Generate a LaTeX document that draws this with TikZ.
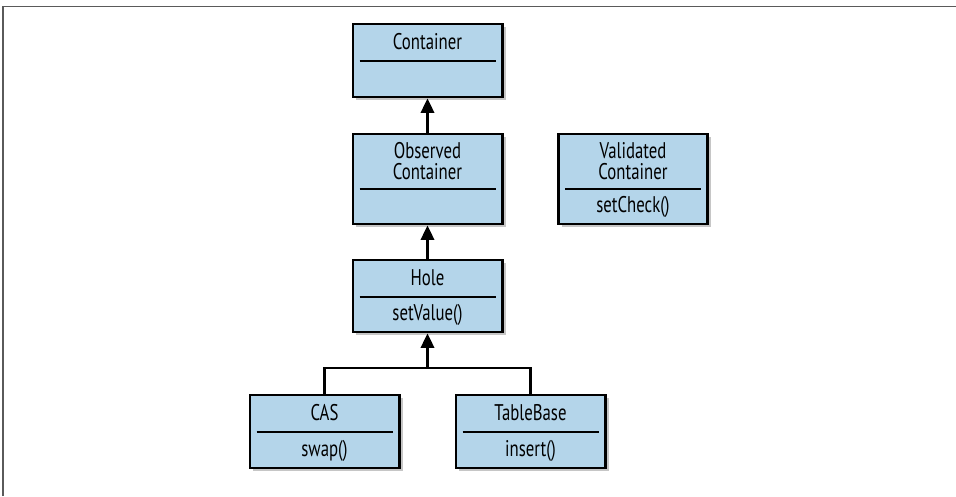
\documentclass[tikz,border=0pt]{standalone}
\usepackage{fontspec}
\setmainfont[FakeStretch=0.74]{PT Sans}
\usetikzlibrary{arrows.meta,shadows}
\definecolor{umlblue}{RGB}{180,213,234}
\definecolor{frame}{RGB}{90,90,90}
\tikzset{
  >={Triangle[length=11pt,width=10pt]},
  umlbox/.style={draw=black,fill=umlblue,line width=2pt,minimum width=112pt,
    drop shadow={shadow xshift=2.5pt,shadow yshift=-2.5pt,opacity=0.45}},
  member/.style={font=\fontsize{17}{16}\selectfont,align=center,inner sep=0pt},
  divider/.style={line width=1.8pt},
  inherit/.style={->,line width=2pt},
  link/.style={line width=2pt},
}

\begin{document}
\begin{tikzpicture}[x=0.75pt,y=0.75pt]
  \useasboundingbox (0,0) rectangle (956,496);
  % frame
  \draw[frame,line width=1.2pt] (3,0) -- (3,489.5) -- (956,489.5);
  % classes: name/x/top/divider/bottom/title/members (measured from the top)
  \foreach \n/\x/\t/\d/\b/\title/\meth in {
      Container/427.5/23/61/98/{Container}/{},
      Observed/427.5/133/189/225/{Observed\\Container}/{},
      Validated/633/133/189/225/{Validated\\Container}/{setCheck()},
      Hole/427.5/259/297/333/{Hole}/{setValue()},
      CAS/324.5/394/432/469/{CAS}/{swap()},
      TableBase/530.5/394/432/469/{TableBase}/{insert()}}{
    \pgfmathsetmacro{\h}{(\b-\t)*0.75-1.5}
    \node[umlbox,minimum height=\h pt] (\n) at (\x,{496-(\t+\b)/2}) {};
    \node[member] (\n-title) at (\x,{496-(\t+\d)/2}) {\title};
    \node[member] (\n-meth) at (\x,{496-(\d+\b)/2}) {\meth};
    \draw[divider] ({\x-68},{496-\d}) -- ({\x+68},{496-\d});
  }
  % inheritance
  \draw[inherit] (Observed) -- (Container);
  \draw[inherit] (Hole) -- (Observed);
  \coordinate (joint) at (427.5,128);
  \draw[link] (CAS.north) |- (joint) -| (TableBase.north);
  \draw[inherit] (joint) -- (Hole);
\end{tikzpicture}
\end{document}
